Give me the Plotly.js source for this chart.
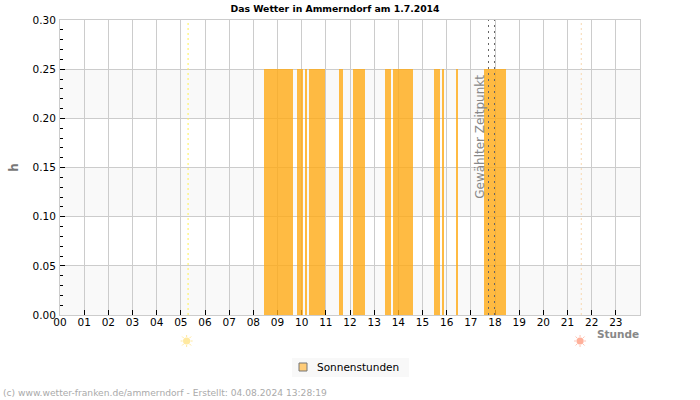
<!DOCTYPE html>
<html>
<head>
<meta charset="utf-8">
<script src="https://cdn.plot.ly/plotly-3.0.1.min.js"></script>
<style>html,body{margin:0;padding:0;background:#fff}#c{width:700px;height:400px}</style>
</head>
<body>
<div id="c"></div>
<script>
var hourLabels = ["00","01","02","03","04","05","06","07","08","09","10","11","12","13","14","15","16","17","18","19","20","21","22","23"];
var hourTicks = [0,1,2,3,4,5,6,7,8,9,10,11,12,13,14,15,16,17,18,19,20,21,22,23];
var yTicks = [0,0.05,0.10,0.15,0.20,0.25,0.30];
var sunStart = [8.43,9.79,10.12,10.29,11.53,12.11,13.44,13.77,15.46,15.80,16.38,17.54];
var sunEnd   = [9.63,10.04,10.21,10.95,11.70,12.61,13.69,14.60,15.71,15.88,16.46,18.45];
var sunValue = [0.25,0.25,0.25,0.25,0.25,0.25,0.25,0.25,0.25,0.25,0.25,0.25];
var sunriseHour = 5.30, sunsetHour = 21.57;
var selectedFrom = 17.731, selectedTo = 17.979;
var bands = [[0,0.05],[0.10,0.15],[0.20,0.25]];

var mids = sunStart.map(function(s,i){return (s+sunEnd[i])/2;});
var widths = sunStart.map(function(s,i){return sunEnd[i]-s;});
var iconY = (315-341)/295;
var L = 60, W = 580;
function px(x){ return (x-L)/W; }

var traces = [
  {type:'bar', x:mids, y:sunValue, width:widths, showlegend:false, hoverinfo:'skip',
   marker:{color:'rgba(255,170,20,0.8)', line:{width:0}}},
  {type:'scatter', mode:'markers', x:[null], y:[null], name:'Sonnenstunden',
   marker:{symbol:'square', size:8, color:'#FFCC77', line:{color:'#777777', width:1}}}
];

var shapes = bands.map(function(b){
  return {type:'rect', xref:'paper', yref:'y', x0:0, x1:1, y0:b[0], y1:b[1], fillcolor:'#f9f9f9', line:{width:0}, layer:'below'};
});
function vline(x,color,dash,w){
  return {type:'line', xref:'x', yref:'y', x0:x, x1:x, y0:0, y1:0.3, line:{color:color, width:w, dash:dash}, layer:'above'};
}
shapes.push(vline(sunriseHour,'#FFF050','2px,3px',1));
shapes.push(vline(sunsetHour,'#F8D8B0','2px,3px',1));
shapes.push(vline(selectedFrom,'#666666','2px,4px',1));
shapes.push(vline(selectedTo,'#666666','2px,4px',1));
// legend background box
shapes.push({type:'rect', xref:'paper', yref:'paper', x0:px(292), x1:px(409), y0:(315-358)/295, y1:(315-377)/295,
  fillcolor:'#f8f8f8', line:{width:0}, layer:'below'});
// sun icons under the axis
function sunIcon(hour, discColor, rayColor){
  var common = {xref:'x', yref:'paper', xsizemode:'pixel', ysizemode:'pixel', xanchor:hour, yanchor:iconY, layer:'above'};
  shapes.push(Object.assign({type:'path',
    path:'M-6,0 L-4,0 M4,0 L6,0 M0,-6 L0,-4 M0,4 L0,6 M-4.5,-4.5 L-3,-3 M3,3 L4.5,4.5 M-4.5,4.5 L-3,3 M3,-3 L4.5,-4.5',
    line:{color:rayColor, width:1}}, common));
  shapes.push(Object.assign({type:'circle', x0:-3.6, x1:3.6, y0:-3.6, y1:3.6, fillcolor:discColor, line:{width:0}}, common));
}
sunIcon(sunriseHour-0.06,'#FFE9A0','#FFE9A0');
sunIcon(sunsetHour-0.05,'#FFB09A','#FFC4B4');

var annotations = [
  {xref:'x', yref:'y', x:17.37, y:0.181, text:'Gewählter Zeitpunkt', textangle:-90, showarrow:false,
   font:{family:'DejaVu Sans', size:12, color:'#888888'}, xanchor:'center', yanchor:'middle'},
  {xref:'paper', yref:'paper', x:px(641), y:(315-334)/295, xanchor:'right', yanchor:'middle', text:'<b>Stunde</b>', showarrow:false,
   font:{family:'DejaVu Sans', size:10.5, color:'#888888'}},
  {xref:'paper', yref:'paper', x:px(1), y:(315-393)/295, xanchor:'left', yanchor:'middle',
   text:'(c) www.wetter-franken.de/ammerndorf - Erstellt: 04.08.2024 13:28:19', showarrow:false,
   font:{family:'DejaVu Sans', size:9.15, color:'#aaaaaa'}}
];

var layout = {
  width:700, height:400, autosize:false,
  margin:{l:L, r:700-L-W, t:20, b:85, pad:0},
  paper_bgcolor:'#ffffff', plot_bgcolor:'#ffffff',
  font:{family:'DejaVu Sans', size:10.5, color:'#000000'},
  title:{text:'<b>Das Wetter in Ammerndorf am 1.7.2014</b>', x:335/700, xanchor:'center', y:1-9/400, yanchor:'middle',
         font:{family:'DejaVu Sans', size:9.3, color:'#000000'}},
  bargap:0,
  barmode:'overlay',
  xaxis:{range:[0,24], tickmode:'array', tickvals:hourTicks, ticktext:hourLabels,
         ticks:'inside', ticklen:5, tickcolor:'#000000', tickwidth:1, ticklabelstandoff:-3,
         showgrid:true, gridcolor:'#cccccc', gridwidth:1,
         showline:true, linecolor:'#cccccc', linewidth:1, mirror:true, zeroline:false,
         tickfont:{family:'DejaVu Sans', size:10.5, color:'#000000'}, tickangle:0, layer:'below traces'},
  yaxis:{range:[0,0.3], tickmode:'array', tickvals:yTicks, tickformat:'.2f',
         ticks:'inside', ticklen:5, tickcolor:'#000000', tickwidth:1, ticklabelstandoff:1,
         minor:{dtick:0.01, tick0:0, ticks:'inside', ticklen:3, tickcolor:'#000000', tickwidth:1, showgrid:false},
         showgrid:true, gridcolor:'#cccccc', gridwidth:1,
         showline:true, linecolor:'#cccccc', linewidth:1, mirror:true, zeroline:false,
         tickfont:{family:'DejaVu Sans', size:10.5, color:'#000000'},
         title:{text:'<b>h</b>', standoff:11, font:{family:'DejaVu Sans', size:12, color:'#777777'}}},
  showlegend:true,
  legend:{x:px(283), y:(315-367)/295, xanchor:'left', yanchor:'middle', bgcolor:'rgba(0,0,0,0)', borderwidth:0,
          font:{family:'DejaVu Sans', size:10.5, color:'#000000'}},
  shapes:shapes,
  annotations:annotations
};
Plotly.newPlot('c', traces, layout, {displayModeBar:false, staticPlot:true}).then(function(){
  var t = document.querySelector('.legendtext');
  if (t) { t.setAttribute('x', 34); }
});
</script>
</body>
</html>
